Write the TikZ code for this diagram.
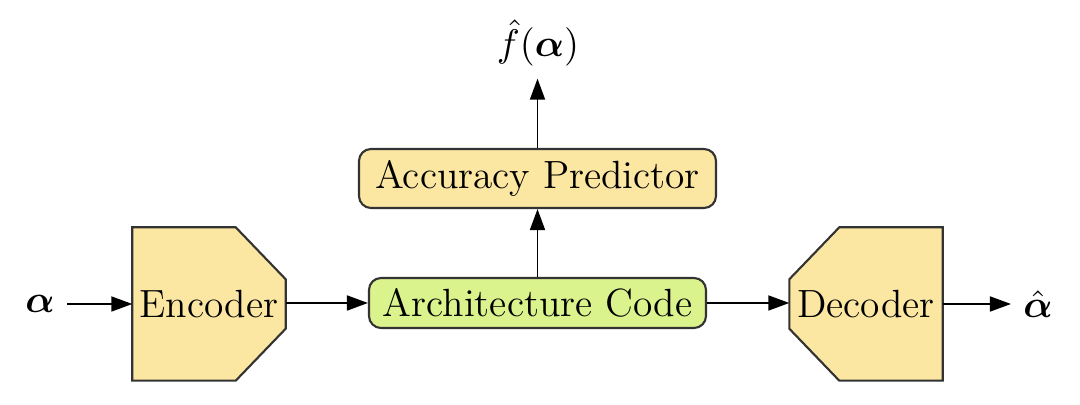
\documentclass[tikz,border=0pt]{standalone}
\usepackage{amsmath}
\usepackage{xcolor}
\usepackage{tikz}
\usetikzlibrary{arrows.meta,backgrounds}

\definecolor{boxyellow}{HTML}{FBE6A2}
\definecolor{boxgreen}{HTML}{DAF38C}

\tikzset{
    coder/.style={rectangle, minimum width=1.52cm, minimum height=1.52cm, inner sep=0pt},
    coderline/.style={draw=black!80, fill=boxyellow, line width=0.6pt},
    codebox/.style={rectangle, rounded corners=0.12cm, draw=black!80, line width=0.6pt, inner sep=0pt},
    flow/.style={-{Triangle[length=0.21cm, width=0.15cm]}, line width=0.5pt}
}

\begin{document}
\begin{tikzpicture}[font=\fontsize{11.2}{13}\selectfont]
        \useasboundingbox (0,0) rectangle (10.8,4.05);

        % Input and output symbols
        \node (alpha) at (0.40,1.01) {$\boldsymbol{\alpha}$};
        \node (alphahat) at (10.38,1.01) {$\hat{\boldsymbol{\alpha}}$};
        \node (fhat) at (5.38,3.62) {$\hat{f}(\boldsymbol{\alpha})$};

        % Encoder and Decoder
        \node[coder] (enc) at (2.09,1.01) {Encoder};
        \node[coder] (dec) at (8.66,1.01) {Decoder};
        \begin{scope}[on background layer]
            \draw[coderline] (enc.north west) -- ([xshift=-0.5cm]enc.north east) -- ([yshift=-0.52cm]enc.north east)
                -- ([yshift=0.52cm]enc.south east) -- ([xshift=-0.5cm]enc.south east) -- (enc.south west) -- cycle;
            \draw[coderline] (dec.north east) -- ([xshift=0.5cm]dec.north west) -- ([yshift=-0.52cm]dec.north west)
                -- ([yshift=0.52cm]dec.south west) -- ([xshift=0.5cm]dec.south west) -- (dec.south east) -- cycle;
        \end{scope}

        % Architecture Code
        \node[codebox, fill=boxgreen, minimum width=3.37cm, minimum height=0.50cm] (code) at (5.375,1.02) {Architecture Code};

        % Accuracy Predictor
        \node[codebox, fill=boxyellow, minimum width=3.57cm, minimum height=0.59cm] (pred) at (5.375,2.265) {Accuracy Predictor};

        % Connections
        \draw[flow] (alpha.east) -- (enc.west |- alpha.east);
        \draw[flow] (enc.east |- code.west) -- (code.west);
        \draw[flow] (code.east) -- (dec.west |- code.east);
        \draw[flow] (dec.east |- alphahat.west) -- (alphahat.west);
        \draw[flow] (code.north) -- (pred.south);
        \draw[flow] (pred.north) -- (pred.north |- fhat.south);
    \end{tikzpicture}
\end{document}
